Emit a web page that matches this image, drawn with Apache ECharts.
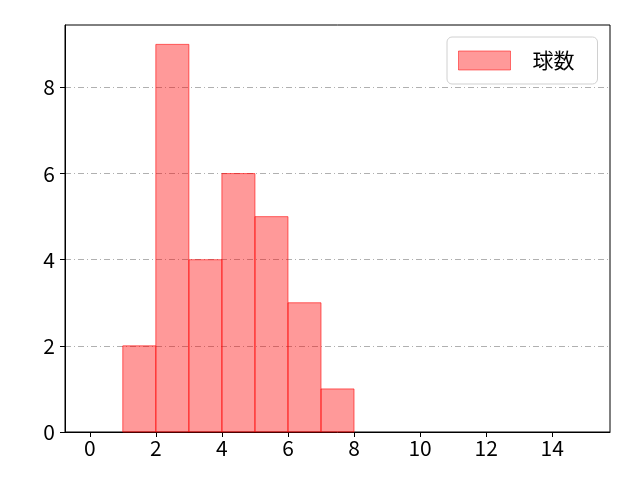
<!DOCTYPE html>
<html><head><meta charset="utf-8">
<script src="https://cdn.jsdelivr.net/npm/echarts@6/dist/echarts.min.js"></script>
<style>html,body{margin:0;padding:0;background:#fff}#c{width:640px;height:480px}</style>
</head><body><div id="c"></div>
<script>
const binStarts = [0,1,2,3,4,5,6,7,8,9,10,11,12,13,14];
const binEnds   = [1,2,3,4,5,6,7,8,9,10,11,12,13,14,15];
const counts    = [0,2,9,4,6,5,3,1,0,0,0,0,0,0,0];
const xTicks = [0,2,4,6,8,10,12,14];
const yTicks = [0,2,4,6,8];
const seriesName = '球数';

const data = binStarts.map((s,i)=>[s, binEnds[i], counts[i]]);
const chart = echarts.init(document.getElementById('c'), null, {renderer:'canvas'});
const font = 'Noto Sans CJK JP, Noto Sans, sans-serif';
chart.setOption({
  animation:false,
  grid:{left:65,right:30,top:25,bottom:48,containLabel:false,show:true,borderColor:'#000',borderWidth:1,backgroundColor:'transparent'},
  xAxis:{type:'value',min:-0.75,max:15.75,interval:2,
    axisLine:{onZero:false,lineStyle:{color:'#000',width:1}},
    axisTick:{show:true,length:5,lineStyle:{color:'#000'},customValues:xTicks},
    axisLabel:{color:'#000',fontSize:21,fontFamily:font,margin:6,customValues:xTicks},
    splitLine:{show:false}},
  yAxis:{type:'value',min:0,max:9.45,interval:2,
    axisLine:{show:true,onZero:false,lineStyle:{color:'#000',width:1}},
    axisTick:{show:true,length:5,lineStyle:{color:'#000'},customValues:yTicks},
    axisLabel:{color:'#000',fontSize:21,fontFamily:font,margin:10,customValues:yTicks},
    splitLine:{show:true,lineStyle:{color:'#b0b0b0',width:1,type:[6,3,1,3]}}},
  legend:{show:true,left:447,top:37,orient:'vertical',
    backgroundColor:'#fff',borderColor:'#d0d0d0',borderWidth:1,borderRadius:5,
    padding:[13,23,13,11],itemWidth:52,itemHeight:19,itemGap:10,
    icon:'rect',
    textStyle:{fontSize:21,fontFamily:'Noto Sans CJK JP, sans-serif',color:'#000',padding:[0,0,0,17]},
    data:[{name:seriesName,itemStyle:{color:'rgba(255,0,0,0.4)',borderColor:'rgba(255,0,0,0.5)',borderWidth:1}}]},
  series:[{
    type:'custom',name:seriesName,
    encode:{x:[0,1],y:2},
    itemStyle:{color:'rgba(255,0,0,0.4)',borderColor:'rgba(255,0,0,0.6)'},
    renderItem:function(params,api){
      const s=api.value(0), e=api.value(1), v=api.value(2);
      if(!v) return null;
      const p0=api.coord([s,0]), p1=api.coord([e,v]);
      return {type:'rect',
        shape:{x:p0[0],y:p1[1],width:p1[0]-p0[0],height:p0[1]-p1[1]},
        style:{fill:'rgba(255,0,0,0.4)',stroke:'rgba(255,0,0,0.6)',lineWidth:1}};
    },
    data:data
  }]
});
</script></body></html>
